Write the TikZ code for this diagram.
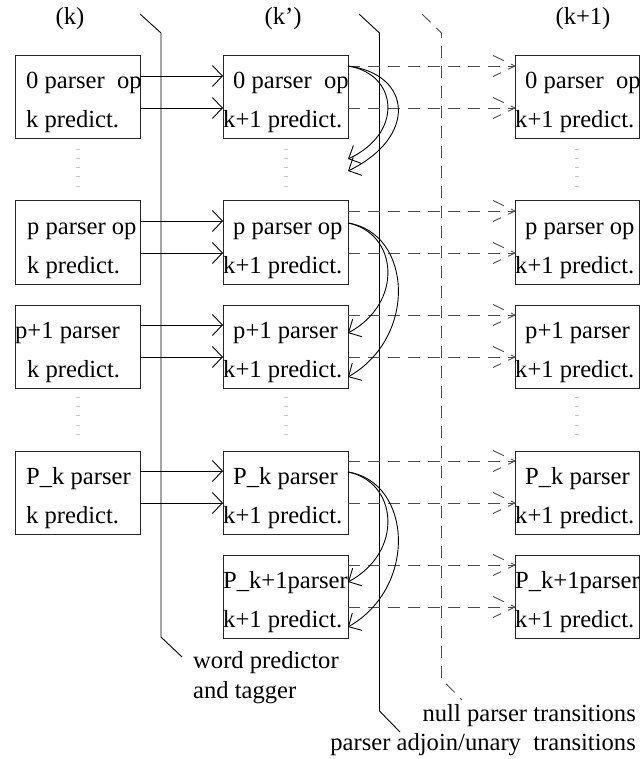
\documentclass[tikz,border=0pt]{standalone}
\usepackage{fontspec}
\setmainfont{Liberation Serif}
\usetikzlibrary{arrows.meta}
\begin{document}
\begin{tikzpicture}[x=1pt,y=-1pt,
  box/.style={draw=black!85, line width=1pt, minimum width=125pt, minimum height=83pt, inner sep=0pt, outer sep=0pt, anchor=north west},
  rbox/.style={box, minimum width=124.5pt},
  txt/.style={anchor=base west, inner sep=0pt, font=\fontsize{24.6}{30}\selectfont},
  lbl/.style={anchor=base, inner sep=0pt, font=\fontsize{24.6}{30}\selectfont},
  sarr/.style={draw=black, line width=0.9pt, -{Straight Barb[length=10pt,width=21pt]}},
  carr/.style={draw=black, line width=0.9pt, -{Straight Barb[length=10pt,width=20pt]}},
  darr/.style={draw=black!70, line width=0.9pt, dash pattern=on 12pt off 8pt},
  sep/.style={draw=black, line width=0.9pt},
  dsep/.style={draw=black!70, line width=0.9pt, dash pattern=on 12pt off 8pt},
  vdots/.style={draw=black!22, line width=4pt, dash pattern=on 0.8pt off 8.5pt}
]
\useasboundingbox (0,0) rectangle (641,759);

% column headers
\node[lbl] (hk) at (70,25) {(k)};
\node[lbl] (hk2) at (283,25) {(k’)};
\node[lbl] (hk3) at (583,25) {(k+1)};

% boxes
\node[box] (L0) at (15,56) {};
\node[box] (Lp) at (15,201) {};
\node[box] (Lq) at (15,305) {};
\node[box] (LK) at (15,451) {};
\node[box] (M0) at (223,56) {};
\node[box] (Mp) at (223,201) {};
\node[box] (Mq) at (223,305) {};
\node[box] (MK) at (223,451) {};
\node[box] (MK1) at (223,555) {};
\node[rbox] (R0) at (515,56) {};
\node[rbox] (Rp) at (515,201) {};
\node[rbox] (Rq) at (515,305) {};
\node[rbox] (RK) at (515,451) {};
\node[rbox] (RK1) at (515,555) {};

% box texts: left column
\node[txt] (tL0a) at (26,89) {0 parser\ \ op};
\node[txt] (tL0b) at (26,128) {k predict.};
\node[txt] (tLpa) at (27,234) {p parser op};
\node[txt] (tLpb) at (27,273) {k predict.};
\node[txt] (tLqa) at (15,338) {p+1 parser};
\node[txt] (tLqb) at (27,377) {k predict.};
\node[txt] (tLKa) at (26,484) {P\_k parser};
\node[txt] (tLKb) at (26,523) {k predict.};
% middle column
\node[txt] (tM0a) at (233,89) {0 parser\ \ op};
\node[txt] (tM0b) at (223,128) {k+1 predict.};
\node[txt] (tMpa) at (233,234) {p parser op};
\node[txt] (tMpb) at (223,273) {k+1 predict.};
\node[txt] (tMqa) at (233,338) {p+1 parser};
\node[txt] (tMqb) at (223,377) {k+1 predict.};
\node[txt] (tMKa) at (233,484) {P\_k parser};
\node[txt] (tMKb) at (223,523) {k+1 predict.};
\node[txt] (tMK1a) at (223,588) {P\_k+1parser};
\node[txt] (tMK1b) at (223,627) {k+1 predict.};
% right column
\node[txt] (tR0a) at (525,89) {0 parser\ \ op};
\node[txt] (tR0b) at (515,128) {k+1 predict.};
\node[txt] (tRpa) at (525,234) {p parser op};
\node[txt] (tRpb) at (515,273) {k+1 predict.};
\node[txt] (tRqa) at (525,338) {p+1 parser};
\node[txt] (tRqb) at (515,377) {k+1 predict.};
\node[txt] (tRKa) at (525,484) {P\_k parser};
\node[txt] (tRKb) at (515,523) {k+1 predict.};
\node[txt] (tRK1a) at (515,588) {P\_k+1parser};
\node[txt] (tRK1b) at (515,627) {k+1 predict.};

% faint vertical dots
\foreach \x in {78,286,577} {
  \draw[vdots] (\x,148.6) -- (\x,188);
  \draw[vdots] (\x,396.6) -- (\x,437);
}

% separator lines
\coordinate (a1) at (140,14); \coordinate (a2) at (161,33);
\coordinate (a3) at (161,637); \coordinate (a4) at (182,657);
\draw[sep] (a1) -- (a2) -- (a3) -- (a4);
\coordinate (b1) at (359,14); \coordinate (b2) at (379.5,33);
\coordinate (b3) at (379.5,711); \coordinate (b4) at (400,732);
\draw[sep] (b1) -- (b2) -- (b3) -- (b4);
\coordinate (c1) at (422,14); \coordinate (c2) at (441.5,33);
\coordinate (c3) at (441.5,679); \coordinate (c4) at (462,700);
\draw[dsep] (c1) -- (c2) -- (c3) -- (c4);

% word predictor arrows
\foreach \r in {0,p,q,K} {
  \draw[sarr] ([yshift=-20pt]L\r.north east) -- ([yshift=-20pt]M\r.north west);
  \draw[sarr] ([yshift=-52pt]L\r.north east) -- ([yshift=-52pt]M\r.north west);
}

% null transitions (dashed)
\foreach \r in {0,p,q,K,K1} {
  \foreach \o in {10,52} {
    \draw[darr] ([yshift=-\o pt]M\r.north east) -- ([yshift=-\o pt]R\r.north west) coordinate (tip);
    \draw[darr] ([shift={(-22pt,10.5pt)}]tip) -- (tip) -- ([shift={(-22pt,-10.5pt)}]tip);
  }
}

% adjoin/unary transitions (curved)
\coordinate (e0a) at (348,159);
\coordinate (e0b) at (348,171);
\draw[carr] ([yshift=-10pt]M0.north east) .. controls +(50,8) and +(56,-26) .. (e0a);
\draw[carr] ([yshift=-10pt]M0.north east) .. controls +(64,8) and +(70,-34) .. (e0b);
\draw[carr] ([yshift=-22pt]Mp.north east) .. controls +(50,10) and +(56,-30) .. ([yshift=-28pt]Mq.north east);
\draw[carr] ([yshift=-22pt]Mp.north east) .. controls +(64,10) and +(70,-40) .. ([yshift=-72pt]Mq.north east);
\draw[carr] ([yshift=-21pt]MK.north east) .. controls +(50,10) and +(56,-30) .. ([yshift=-27pt]MK1.north east);
\draw[carr] ([yshift=-21pt]MK.north east) .. controls +(64,10) and +(70,-40) .. ([yshift=-72pt]MK1.north east);

% bottom labels
\node[txt] (w1) at (193,668) {word predictor};
\node[txt] (w2) at (193,698) {and tagger};
\node[txt, anchor=base east] (n1) at (636,721) {null parser transitions};
\node[txt, anchor=base east] (n2) at (636,750) {parser adjoin/unary\ \ transitions};
\end{tikzpicture}
\end{document}
